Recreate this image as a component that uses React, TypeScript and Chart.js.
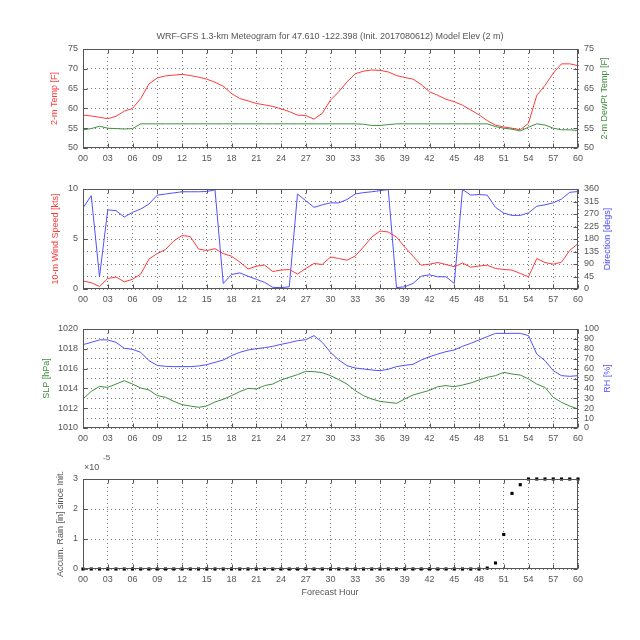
import React, { useEffect, useRef } from "react";
import { Chart, registerables } from "chart.js";
Chart.register(...registerables);

// ---------------- DATA ----------------
const hours = [
  0, 1, 2, 3, 4, 5, 6, 7, 8, 9, 10, 11, 12, 13, 14, 15, 16, 17, 18, 19, 20,
  21, 22, 23, 24, 25, 26, 27, 28, 29, 30, 31, 32, 33, 34, 35, 36, 37, 38, 39, 40,
  41, 42, 43, 44, 45, 46, 47, 48, 49, 50, 51, 52, 53, 54, 55, 56, 57, 58, 59, 60,
];

const tempF = [
  58.3, 58.1, 57.75, 57.4, 58.0, 59.3, 60.0, 62.5, 66.2, 67.7,
  68.2, 68.4, 68.6, 68.3, 67.9, 67.4, 66.6, 65.6, 63.75, 62.5,
  61.9, 61.25, 60.9, 60.5, 59.9, 59.2, 58.3, 58.2, 57.3, 58.75,
  62.1, 64.2, 66.7, 68.75, 69.4, 69.7, 69.6, 69.2, 68.3, 67.8,
  67.4, 66.0, 64.2, 63.3, 62.3, 61.7, 60.8, 59.6, 58.4, 56.9,
  55.75, 55.3, 55.0, 54.6, 56.25, 63.3, 65.8, 68.9, 71.25, 71.25,
  70.8,
];

const dewF = [
  54.6, 54.9, 55.5, 55.0, 54.9, 54.8, 54.9, 56.1, 56.1, 56.1,
  56.1, 56.1, 56.1, 56.1, 56.1, 56.1, 56.1, 56.1, 56.1, 56.1,
  56.1, 56.1, 56.1, 56.1, 56.1, 56.1, 56.1, 56.1, 56.1, 56.1,
  56.1, 56.1, 56.1, 56.1, 56.0, 55.7, 55.7, 55.9, 56.1, 56.1,
  56.1, 56.1, 56.1, 56.1, 56.1, 56.1, 56.1, 56.1, 56.1, 56.1,
  55.4, 55.0, 54.75, 54.3, 55.25, 56.1, 55.8, 55.0, 54.6, 54.6,
  54.4,
];

const windKt = [
  0.8, 0.63, 0.25, 1.05, 1.2, 0.72, 0.97, 1.5, 3.0, 3.55,
  3.95, 4.8, 5.35, 5.25, 4.0, 3.85, 4.03, 3.54, 3.28, 2.7,
  2.0, 2.28, 2.4, 1.75, 1.89, 1.95, 1.5, 2.05, 2.55, 2.45,
  3.2, 3.05, 2.88, 3.3, 4.2, 5.2, 5.8, 5.7, 5.2, 4.2,
  3.28, 2.38, 2.48, 2.65, 2.45, 2.22, 2.6, 2.18, 2.3, 2.38,
  2.05, 1.95, 1.89, 1.56, 1.22, 3.05, 2.65, 2.48, 2.68, 3.87,
  4.53,
];

const windDirDeg = [
  292, 336, 44, 285, 282, 259, 276, 288, 306, 338,
  342, 346, 350, 350, 350, 351, 357, 20, 52, 58,
  46, 35, 24, 6, 5, 8, 342, 318, 294, 303,
  310, 310, 322, 342, 347, 350, 354, 358, 5, 8,
  20, 46, 51, 44, 44, 20, 358, 338, 340, 338,
  294, 273, 265, 265, 274, 298, 303, 310, 324, 348,
  351,
];

const slpHpa = [
  1012.93, 1013.7, 1014.2, 1014.1, 1014.44, 1014.78, 1014.44, 1014.04, 1013.84, 1013.27,
  1013.1, 1012.7, 1012.36, 1012.22, 1012.09, 1012.22, 1012.63, 1012.9, 1013.27, 1013.67,
  1014.0, 1013.94, 1014.28, 1014.44, 1014.85, 1015.12, 1015.39, 1015.72, 1015.69, 1015.59,
  1015.29, 1014.88, 1014.44, 1013.77, 1013.27, 1012.93, 1012.69, 1012.59, 1012.49, 1012.93,
  1013.33, 1013.57, 1013.8, 1014.17, 1014.28, 1014.17, 1014.34, 1014.55, 1014.85, 1015.12,
  1015.29, 1015.62, 1015.45, 1015.35, 1014.95, 1014.44, 1014.1, 1013.1, 1012.59, 1012.22,
  1011.92,
];

const rhPct = [
  84.2, 86.5, 89.0, 89.0, 86.5, 80.5, 79.5, 76.4, 68, 63.2,
  62.3, 62, 62, 62, 62.6, 64, 66.3, 68.7, 73.1, 76.4,
  78.8, 80.1, 81.1, 82.5, 84.5, 86.2, 88.2, 89.2, 93.3, 86.5,
  76.4, 68.7, 63, 60.6, 59.6, 58.6, 57.9, 59.3, 62, 63.3,
  64.3, 68.7, 72, 74.7, 77.1, 78.8, 82.5, 85.5, 88.9, 92.3,
  95.6, 95.6, 95.6, 95.6, 93.3, 74.7, 68, 57.9, 52.9, 52.2,
  52.9,
];

// accumulated rain, in units of 1e-5 inch
const rainE5 = [
  0, 0, 0, 0, 0, 0, 0, 0, 0, 0,
  0, 0, 0, 0, 0, 0, 0, 0, 0, 0,
  0, 0, 0, 0, 0, 0, 0, 0, 0, 0,
  0, 0, 0, 0, 0, 0, 0, 0, 0, 0,
  0, 0, 0, 0, 0, 0, 0, 0, 0, 0.03,
  0.2, 1.15, 2.52, 2.81, 3, 3, 3, 3, 3, 3,
  3,
];

const titleText =
  "WRF-GFS 1.3-km Meteogram for 47.610 -122.398 (Init. 2017080612) Model Elev (2 m)";

// ---------------- STYLE ----------------
const FONT = "'Liberation Sans', Arial, sans-serif";
const TEXT = "#555555";
const GRID = "#7a7a7a";
const FRAME = "#555555";
const RED = "#ff3a3a";
const GREEN = "#3f8f3f";
const BLUE = "#5050ff";
const FS = 9;

type Txt = {
  text: string;
  x: number;
  y: number;
  color: string;
  rotate?: boolean;
  align?: CanvasTextAlign;
  size?: number;
};

const pts = (ys: number[]) => hours.map((h, i) => ({ x: h, y: ys[i] }));

const lineDs = (data: number[], color: string, axis: string) => ({
  data: pts(data),
  borderColor: color,
  backgroundColor: color,
  borderWidth: 1,
  pointRadius: 0,
  tension: 0,
  fill: false,
  yAxisID: axis,
});

const xScale = (h: number) => ({
  type: "linear",
  min: 0,
  max: 60,
  ticks: {
    stepSize: 3,
    autoSkip: false,
    maxRotation: 0,
    color: TEXT,
    padding: 5,
    font: { family: FONT, size: FS },
    callback: (v: any) => String(v).padStart(2, "0"),
  },
  grid: { color: GRID, drawTicks: false, lineWidth: 1 },
  border: { display: false, dash: [1, 3] },
  afterFit: (s: any) => {
    s.height = h;
  },
});

const yScale = (
  pos: "left" | "right",
  min: number,
  max: number,
  step: number,
  grid: boolean,
  width: number
) => ({
  type: "linear",
  position: pos,
  min,
  max,
  ticks: {
    stepSize: step,
    autoSkip: false,
    color: TEXT,
    padding: pos === "left" ? 5 : 6,
    font: { family: FONT, size: FS },
    callback: (v: any) => String(v),
  },
  grid: { display: grid, color: GRID, drawTicks: false, lineWidth: 1 },
  border: { display: false, dash: [1, 3] },
  afterFit: (s: any) => {
    s.width = width;
  },
});

const makeFrame = (texts: Txt[], top: number, mirrorY: boolean) => ({
  id: "frame",
  afterDraw(chart: any) {
    const ctx = chart.ctx as CanvasRenderingContext2D;
    const a = chart.chartArea;
    const L = Math.round(a.left) + 0.5;
    const R = Math.round(a.right) - 0.5;
    const T = Math.round(a.top) + 0.5;
    const B = Math.round(a.bottom) - 0.5;
    ctx.save();
    ctx.strokeStyle = FRAME;
    ctx.lineWidth = 1;
    ctx.setLineDash([]);
    ctx.strokeRect(L, T, R - L, B - T);
    const seg = (x1: number, y1: number, x2: number, y2: number) => {
      ctx.beginPath();
      ctx.moveTo(x1, y1);
      ctx.lineTo(x2, y2);
      ctx.stroke();
    };
    const xs = chart.scales.x;
    xs.ticks.forEach((t: any) => {
      const px = Math.round(xs.getPixelForValue(t.value)) + 0.5;
      seg(px, B, px, B - 4);
      seg(px, T, px, T + 4);
    });
    const ys = chart.scales.y;
    ys.ticks.forEach((t: any) => {
      const py = Math.round(ys.getPixelForValue(t.value)) + 0.5;
      seg(L, py, L + 4, py);
      if (mirrorY) seg(R, py, R - 4, py);
    });
    const y1 = chart.scales.y1;
    if (y1) {
      y1.ticks.forEach((t: any) => {
        const py = Math.round(y1.getPixelForValue(t.value)) + 0.5;
        seg(R, py, R - 4, py);
      });
    }
    texts.forEach((t) => {
      ctx.save();
      ctx.fillStyle = t.color;
      ctx.font = `${t.size ?? FS}px ${FONT}`;
      ctx.textBaseline = "middle";
      ctx.textAlign = t.align ?? "center";
      ctx.translate(t.x, t.y - top);
      if (t.rotate) ctx.rotate(-Math.PI / 2);
      ctx.fillText(t.text, 0, 0);
      ctx.restore();
    });
    ctx.restore();
  },
});

type PanelSpec = {
  top: number;
  height: number;
  padTop: number;
  padRight: number;
  xHeight: number;
  datasets: any[];
  scales: any;
  texts: Txt[];
  mirrorY: boolean;
};

const panels: PanelSpec[] = [
  {
    top: 0,
    height: 170,
    padTop: 49,
    padRight: 0,
    xHeight: 22,
    mirrorY: false,
    datasets: [lineDs(dewF, GREEN, "y1"), lineDs(tempF, RED, "y")],
    scales: {
      x: xScale(22),
      y: yScale("left", 50, 75, 5, true, 83),
      y1: yScale("right", 50, 75, 5, false, 62),
    },
    texts: [
      { text: titleText, x: 330, y: 37, color: TEXT },
      { text: "2-m Temp [F]", x: 55, y: 98.5, color: RED, rotate: true },
      { text: "2-m DewPt Temp [F]", x: 605, y: 98.5, color: GREEN, rotate: true },
    ],
  },
  {
    top: 170,
    height: 140,
    padTop: 19,
    padRight: 0,
    xHeight: 21,
    mirrorY: false,
    datasets: [lineDs(windKt, RED, "y"), lineDs(windDirDeg, BLUE, "y1")],
    scales: {
      x: xScale(21),
      y: yScale("left", 0, 10, 5, false, 83),
      y1: yScale("right", 0, 360, 45, true, 62),
    },
    texts: [
      { text: "10-m Wind Speed [kts]", x: 56, y: 239, color: RED, rotate: true },
      { text: "Direction [degs]", x: 607.5, y: 239, color: BLUE, rotate: true },
    ],
  },
  {
    top: 310,
    height: 140,
    padTop: 19,
    padRight: 0,
    xHeight: 22,
    mirrorY: false,
    datasets: [lineDs(slpHpa, GREEN, "y"), lineDs(rhPct, BLUE, "y1")],
    scales: {
      x: xScale(22),
      y: yScale("left", 1010, 1020, 2, false, 83),
      y1: yScale("right", 0, 100, 10, true, 62),
    },
    texts: [
      { text: "SLP [hPa]", x: 47, y: 378.5, color: GREEN, rotate: true },
      { text: "RH [%]", x: 607.5, y: 378.5, color: BLUE, rotate: true },
    ],
  },
  {
    top: 450,
    height: 190,
    padTop: 29,
    padRight: 62,
    xHeight: 71,
    mirrorY: true,
    datasets: [
      {
        data: pts(rainE5),
        showLine: false,
        pointStyle: "rect",
        pointRadius: 2.2,
        pointBorderWidth: 0,
        pointBackgroundColor: "#000",
        borderColor: "#000",
        backgroundColor: "#000",
        clip: false,
        yAxisID: "y",
      },
    ],
    scales: {
      x: xScale(71),
      y: yScale("left", 0, 3, 1, true, 83),
    },
    texts: [
      { text: "Accum. Rain [in] since Init.", x: 61, y: 524, color: TEXT, rotate: true },
      { text: "\u00d710", x: 84, y: 468, color: TEXT, align: "left" },
      { text: "-5", x: 103, y: 458, color: TEXT, align: "left", size: 8 },
      { text: "Forecast Hour", x: 330, y: 593, color: TEXT },
    ],
  },
];

function Panel({ spec }: { spec: PanelSpec }) {
  const ref = useRef<HTMLCanvasElement>(null);
  useEffect(() => {
    const chart = new Chart(ref.current as HTMLCanvasElement, {
      type: "line",
      data: { datasets: spec.datasets },
      options: {
        animation: false,
        responsive: false,
        maintainAspectRatio: false,
        layout: {
          padding: { top: spec.padTop, right: spec.padRight, left: 0, bottom: 0 },
        },
        plugins: {
          legend: { display: false },
          title: { display: false },
          tooltip: { enabled: false },
        },
        scales: spec.scales,
      } as any,
      plugins: [makeFrame(spec.texts, spec.top, spec.mirrorY) as any],
    });
    return () => chart.destroy();
  }, [spec]);
  return (
    <canvas
      ref={ref}
      width={640}
      height={spec.height}
      style={{
        position: "absolute",
        left: 0,
        top: spec.top,
        width: 640,
        height: spec.height,
      }}
    />
  );
}

export default function App() {
  return (
    <div
      style={{
        position: "absolute",
        left: 0,
        top: 0,
        width: 640,
        height: 640,
        background: "#fff",
      }}
    >
      {panels.map((p, i) => (
        <Panel key={i} spec={p} />
      ))}
    </div>
  );
}
